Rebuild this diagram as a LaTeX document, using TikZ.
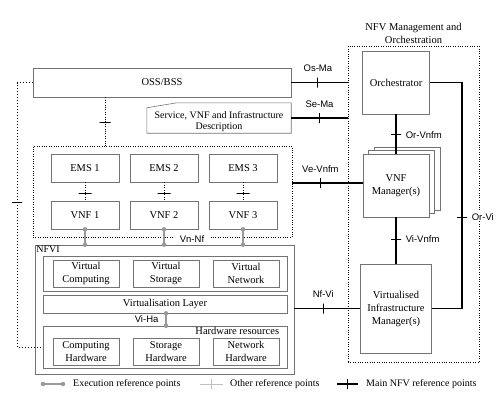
\documentclass[tikz,border=0pt]{standalone}
\usepackage{fontspec}
\setmainfont{Liberation Serif}
\newfontfamily\labelfont{Liberation Sans}
\usetikzlibrary{positioning}
\usetikzlibrary{calc}

\begin{document}
\begin{tikzpicture}[x = 1pt, y = -1pt, node distance = 80pt, on grid, box/.style = {draw = black!55, semithick, fill = white, align = center, inner sep = 0pt, font = \fontsize{10.5}{13}\selectfont}, small/.style = {box, minimum width = 66pt, minimum height = 27pt}, frame/.style = {draw, dotted, thin, inner sep = 0pt}, mainref/.style = {line width = 1.6pt}, otherref/.style = {dotted, thin}, execref/.style = {draw = black!40, line width = 1.2pt}, refdot/.style = {circle, fill = black!40, draw = none, inner sep = 0pt, minimum size = 4.5pt}, refmark/.style = {sloped, draw, solid, line width = 0.9pt, minimum width = 0pt, minimum height = 10pt, inner sep = 0pt}, reflabel/.style = {font = \labelfont\fontsize{9.5}{11}\selectfont, inner sep = 1pt}, legend/.style = {anchor = west, inner sep = 0pt, font = \fontsize{10}{12}\selectfont}]
	\useasboundingbox[fill = white] (0,0) rectangle (500,400);
	\node[box, minimum width = 258pt, minimum height = 29pt] (OSS) at (162,82.5) {OSS/BSS};
	\node[minimum width = 144pt, minimum height = 30pt, inner sep = 0pt] (SD) at (219,118) {};
	\draw[black!55, semithick] ($(SD.north west)+(0,5)$) -- ($(SD.north west)+(30,0)$) -- (SD.north east) -- (SD.south east) -- (SD.south west) -- cycle;
	\node[align = center, inner sep = 0pt, font = \fontsize{10}{11}\selectfont] (SDt) at ([yshift = -4pt]SD.center) {Service, VNF and Infrastructure\\Description};
	\node[frame, minimum width = 259pt, minimum height = 91pt] (EMS) at (162.5,191.5) {};
	\node[small, minimum width = 68pt, minimum height = 28pt] (E1) at (85,168) {EMS 1};
	\node[small, minimum width = 68pt, minimum height = 28pt] (E2) [node distance = 79pt, right = of E1] {EMS 2};
	\node[small, minimum width = 68pt, minimum height = 28pt] (E3) [node distance = 79pt, right = of E2] {EMS 3};
	\node[small, minimum width = 68pt, minimum height = 28pt] (V1) [node distance = 47pt, below = of E1] {VNF 1};
	\node[small, minimum width = 68pt, minimum height = 28pt] (V2) [node distance = 47pt, below = of E2] {VNF 2};
	\node[small, minimum width = 68pt, minimum height = 28pt] (V3) [node distance = 47pt, below = of E3] {VNF 3};
	\node[reflabel, fill = white, inner xsep = 7pt, inner ysep = 0.5pt] (VNNF) at (192,239) {Vn-Nf};
	\node[box, minimum width = 259pt, minimum height = 129pt] (NFVI) at (164.5,309.5) {};
	\node[anchor = north west, inner sep = 1.5pt, font = \fontsize{10}{12}\selectfont] (NFVIt) at (NFVI.north west) {NFVI};
	\node[box, minimum width = 244pt, minimum height = 35pt] (VR) at (165,273.5) {};
	\node[small] (VC) at (86,273.5) {Virtual\\Computing};
	\node[small] (VS) [right = of VC] {Virtual\\Storage};
	\node[small] (VN) [right = of VS] {Virtual\\Network};
	\node[box, minimum width = 244pt, minimum height = 18pt] (VL) at (165,304) {Virtualisation Layer};
	\node[box, minimum width = 244pt, minimum height = 42pt] (HW) at (165,347) {};
	\node[anchor = north east, inner sep = 1pt, font = \fontsize{10.5}{12}\selectfont] (HWt) at ([xshift = -7pt]HW.north east) {Hardware resources};
	\node[small] (CH) at (86,351.5) {Computing\\Hardware};
	\node[small] (SH) [right = of CH] {Storage\\Hardware};
	\node[small] (NH) [right = of SH] {Network\\Hardware};
	\node[frame, minimum width = 131pt, minimum height = 316pt] (MANO) at (413.5,204) {};
	\node[anchor = south, align = center, inner sep = 2pt, font = \fontsize{10.5}{13}\selectfont] (MANOt) at (MANO.north) {NFV Management and\\Orchestration};
	\node[box, minimum width = 67pt, minimum height = 63pt] (OR) at (396,82.5) {Orchestrator};
	\foreach \d in {2,1}
		\node[box, minimum width = 66pt, minimum height = 63pt] (VNFM\d) at (396+5.5*\d,185.5-3.5*\d) {};
	\node[box, minimum width = 66pt, minimum height = 63pt] (VNFM) at (396,185.5) {VNF\\Manager(s)};
	\node[box, minimum width = 71pt, minimum height = 89pt] (VIM) at (396,308.5) {Virtualised\\Infrastructure\\Manager(s)};
	\coordinate (L1) at (17,82.5);
	\coordinate (L2) at (17,347);
	\coordinate (ORa) at (462,82.5);
	\coordinate (ORb) at (462,308.5);
	\draw[mainref] (OSS.east) -- node[refmark, pos = 0.47]{} node[reflabel, above = 9pt, pos = 0.47]{Os-Ma} (OSS.east -| MANO.west);
	\draw[mainref] (SD.east) -- node[refmark, pos = 0.5]{} node[reflabel, above = 9pt, pos = 0.5]{Se-Ma} (SD.east -| MANO.west);
	\draw[mainref] ([yshift = 2.5pt]EMS.east |- VNFM.west) -- node[refmark, pos = 0.4]{} node[reflabel, above = 9pt, pos = 0.4]{Ve-Vnfm} ([yshift = 2.5pt]VNFM.west);
	\draw[mainref] (NFVI.east |- VIM.west) -- node[refmark, pos = 0.44]{} node[reflabel, above = 9pt, pos = 0.44]{Nf-Vi} (VIM.west);
	\draw[mainref] (OR.south) -- node[refmark, pos = 0.52]{} node[reflabel, right = 8pt, pos = 0.52]{Or-Vnfm} (VNFM.north);
	\draw[mainref] (VNFM.south) -- node[refmark, pos = 0.47]{} node[reflabel, right = 8pt, pos = 0.47]{Vi-Vnfm} (VIM.north);
	\draw[mainref] (OR.east) -- (ORa) -- node[refmark, pos = 0.595]{} node[reflabel, right = 8pt, pos = 0.595, fill = white]{Or-Vi} (ORb) -- (VIM.east);
	\draw[otherref] (OSS.south -| 105,0) -- node[refmark, pos = 0.51, minimum height = 11pt]{} (EMS.north -| 105,0);
	\draw[otherref, line width = 1pt] (OSS.west) -- (L1) -- node[refmark, pos = 0.454, minimum height = 10pt]{} (L2) -- (HW.west);
	\foreach \n in {1,2,3}
		\draw[otherref] (E\n.south) -- node[refmark, pos = 0.58, minimum height = 13pt]{} (V\n.north);
	\foreach \n in {1,2,3}
		\draw[execref] (V\n.south) node[refdot]{} -- (V\n.south |- NFVI.north) node[refdot]{};
	\draw[execref] (VL.south -| 166,0) node[refdot]{} -- node[reflabel, left = 6pt]{Vi-Ha} (HW.north -| 166,0) node[refdot]{};
	\coordinate (LE1) at (43,384);
	\coordinate (LE2) at (63,384);
	\coordinate (LO1) at (200,384);
	\coordinate (LO2) at (223,384);
	\coordinate (LM1) at (337,384);
	\coordinate (LM2) at (358,384);
	\draw[execref] (LE1) node[refdot]{} -- (LE2) node[refdot]{};
	\node[legend] (LEt) at (73,384) {Execution reference points};
	\draw[black!25, thin] (LO1) -- node[refmark, draw = black!25, thin]{} (LO2);
	\node[legend] (LOt) at (230,384) {Other reference points};
	\draw[mainref] (LM1) -- node[refmark]{} (LM2);
	\node[legend] (LMt) at (366,384) {Main NFV reference points};
\end{tikzpicture}
\end{document}
